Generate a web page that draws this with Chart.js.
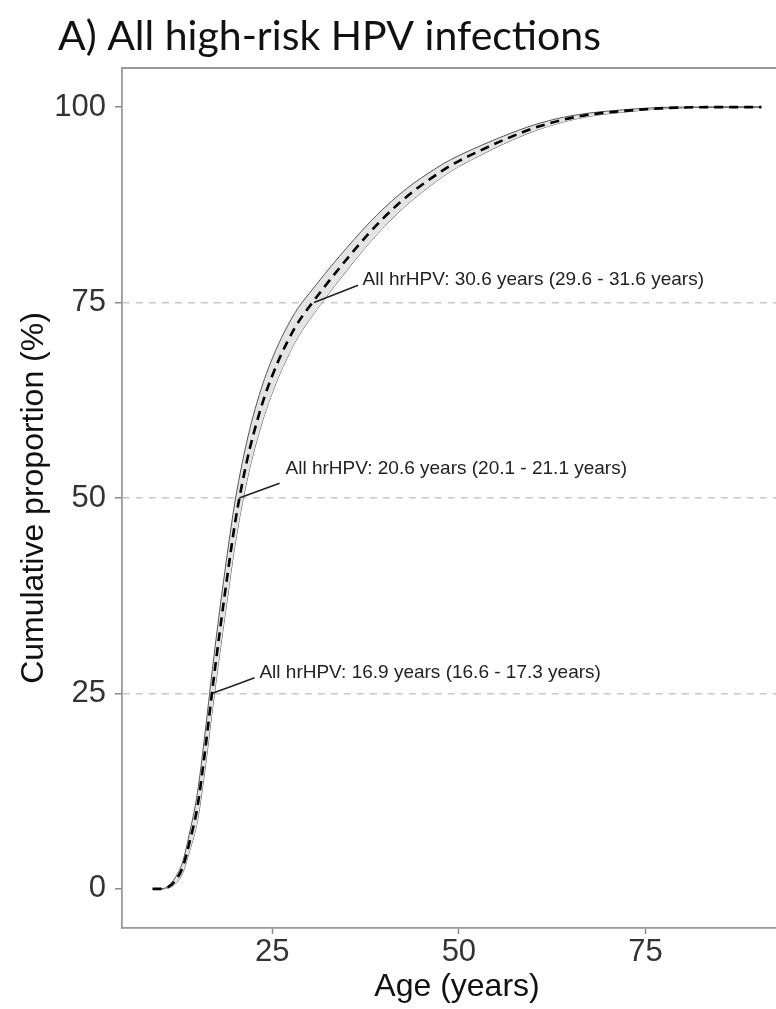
<!DOCTYPE html>
<html>
<head>
<meta charset="utf-8">
<script src="https://cdn.jsdelivr.net/npm/chart.js@4/dist/chart.umd.min.js"></script>
<style>
  html, body { margin: 0; padding: 0; background: #fff; overflow: hidden; }
  canvas { display: block; }
</style>
</head>
<body>
<canvas id="hpv" width="796" height="1009"></canvas>
<script>
// cumulative proportion of first hrHPV infection by age
const ages   = [9, 10, 11, 12, 13, 14, 15, 16, 17, 18, 19, 20, 21, 22, 23, 24, 25, 26, 27, 28, 29, 30, 32, 34, 36, 38, 40, 42, 44, 46, 48, 50, 53, 56, 60, 64, 68, 72, 76, 80, 85, 90.5];
const median = [0, 0, 0.2, 1.0, 2.7, 6.2, 10.5, 17.5, 25.5, 33, 40.0, 46.6, 51.9, 56.3, 59.9, 63.0, 65.6, 67.9, 69.9, 71.7, 73.2, 74.5, 77.0, 79.4, 81.7, 83.9, 85.9, 87.7, 89.3, 90.7, 92.0, 93.1, 94.5, 95.8, 97.3, 98.4, 99.1, 99.5, 99.8, 99.95, 100, 100];
const lower  = [0, 0, 0.1, 0.6, 2.0, 5.0, 8.7, 15.2, 22.9, 30.2, 37.1, 43.8, 49.3, 53.8, 57.5, 60.7, 63.4, 65.8, 67.9, 69.8, 71.4, 72.8, 75.4, 77.9, 80.3, 82.6, 84.7, 86.6, 88.3, 89.8, 91.2, 92.4, 93.9, 95.3, 96.9, 98.1, 98.9, 99.35, 99.7, 99.9, 100, 100];
const upper  = [0, 0, 0.3, 1.4, 3.4, 7.4, 12.3, 19.8, 28.1, 35.8, 42.9, 49.4, 54.5, 58.8, 62.3, 65.3, 67.8, 70.0, 71.9, 73.6, 75.0, 76.2, 78.6, 80.9, 83.1, 85.2, 87.1, 88.8, 90.3, 91.6, 92.8, 93.8, 95.1, 96.3, 97.7, 98.7, 99.3, 99.65, 99.9, 100, 100, 100];

const xTicks = [25, 50, 75];
const yTicks = [0, 25, 50, 75, 100];
const quantileLines = [25, 50, 75];

// median-age annotations
const noteAge  = [16.9, 20.6, 30.6];
const notePct  = [25, 50, 75];
const noteText = [
  'All hrHPV: 16.9 years (16.6 - 17.3 years)',
  'All hrHPV: 20.6 years (20.1 - 21.1 years)',
  'All hrHPV: 30.6 years (29.6 - 31.6 years)'
];
const noteLabelAge = [23.3, 26.8, 37.1];
const noteLabelPct = [27.6, 53.8, 77.9];
const noteLineAge  = [22.65, 26.0, 36.5];
const noteLinePct  = [27.0, 51.9, 77.2];

const pts = ys => ages.map((a, i) => ({ x: a, y: ys[i] }));

const pointerSets = noteAge.map((a, i) => ({
  data: [{ x: a, y: notePct[i] }, { x: noteLineAge[i], y: noteLinePct[i] }],
  borderColor: '#222',
  borderWidth: 1.6,
  tension: 0
}));

const extras = {
  id: 'extras',
  afterDraw(chart) {
    const { ctx, chartArea: ca, scales: { x, y } } = chart;
    ctx.save();
    // panel frame (top / right)
    ctx.strokeStyle = '#999';
    ctx.lineWidth = 1.8;
    ctx.beginPath();
    ctx.moveTo(ca.left, ca.top);
    ctx.lineTo(ca.right, ca.top);
    ctx.lineTo(ca.right, ca.bottom);
    ctx.stroke();
    // annotation text
    ctx.fillStyle = '#222';
    ctx.font = '19px "Liberation Sans", Arial, sans-serif';
    ctx.textBaseline = 'middle';
    ctx.textAlign = 'left';
    noteText.forEach((t, i) => {
      ctx.fillText(t, x.getPixelForValue(noteLabelAge[i]), y.getPixelForValue(noteLabelPct[i]));
    });
    // panel title
    ctx.fillStyle = '#111';
    ctx.font = '41px Lato, "Open Sans", sans-serif';
    ctx.textBaseline = 'alphabetic';
    ctx.fillText('A) All high-risk HPV infections', 58, 50);
    ctx.restore();
  }
};

new Chart(document.getElementById('hpv'), {
  type: 'line',
  data: {
    datasets: [
      { data: pts(median), borderColor: '#000', borderWidth: 2.6, borderDash: [9, 6] },
      ...pointerSets,
      { data: pts(upper), borderColor: '#555', borderWidth: 1, fill: '+1', backgroundColor: '#e4e4e4' },
      { data: pts(lower), borderColor: '#555', borderWidth: 1 }
    ]
  },
  options: {
    responsive: false,
    animation: false,
    events: [],
    layout: { padding: { top: 68, right: 4, bottom: 0, left: 0 } },
    elements: {
      point: { radius: 0 },
      line: { cubicInterpolationMode: 'monotone' }
    },
    plugins: { legend: { display: false }, tooltip: { enabled: false } },
    scales: {
      x: {
        type: 'linear',
        min: 4.9,
        max: 94.6,
        afterBuildTicks: s => { s.ticks = xTicks.map(v => ({ value: v })); },
        afterFit: s => { s.height = 81; },
        grid: { drawOnChartArea: false, tickColor: '#888', tickLength: 6, tickWidth: 1.5 },
        border: { color: '#999', width: 1.8 },
        ticks: { color: '#333', padding: 0, font: { family: '"Liberation Sans", Arial, sans-serif', size: 31 } },
        title: {
          display: true,
          text: 'Age (years)',
          color: '#111',
          padding: { top: 0, bottom: 3 },
          font: { family: '"Liberation Sans", Arial, sans-serif', size: 32 }
        }
      },
      y: {
        type: 'linear',
        min: -5,
        max: 105,
        afterBuildTicks: s => { s.ticks = yTicks.map(v => ({ value: v })); },
        afterFit: s => { s.width = 122; },
        grid: {
          color: c => quantileLines.includes(c.tick && c.tick.value) ? '#c8c8c8' : 'rgba(0,0,0,0)',
          lineWidth: 1.5,
          tickColor: '#888',
          tickLength: 7,
          tickWidth: 1.5
        },
        border: { color: '#999', width: 1.8, dash: [7, 6] },
        ticks: { color: '#333', padding: 9, font: { family: '"Liberation Sans", Arial, sans-serif', size: 31 } },
        title: {
          display: true,
          text: 'Cumulative proportion (%)',
          color: '#111',
          padding: { top: 15, bottom: 0 },
          font: { family: '"Liberation Sans", Arial, sans-serif', size: 32 }
        }
      }
    }
  },
  plugins: [extras]
});
</script>
</body>
</html>
